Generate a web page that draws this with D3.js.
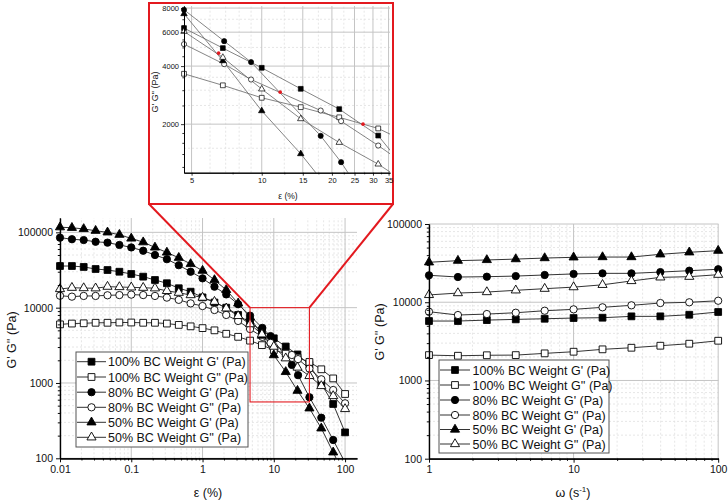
<!DOCTYPE html>
<html><head><meta charset="utf-8">
<script src="https://cdn.jsdelivr.net/npm/d3@7"></script>
<style>
body{margin:0;background:#fff}
text{font-family:Arial,"Liberation Sans",sans-serif}
</style>
</head><body>
<svg id="c" width="728" height="502"></svg>
<script>
// ---------------- DATA ----------------
const seriesNames = ["100% BC Weight G' (Pa)", "100% BC Weight G'' (Pa)", "80% BC Weight G' (Pa)",
                     "80% BC Weight G'' (Pa)", "50% BC Weight G' (Pa)", "50% BC Weight G'' (Pa)"];
// strain sweep (ε, %)
const strainX   = [0.01,0.0147,0.0215,0.0316,0.0464,0.0681,0.1,0.147,0.215,0.316,0.464,0.681,1,1.47,2.15,3.16,4.64,6.81,10,14.7,21.5,31.6,46.4,68.1,100];
const strainX80 = [0.01,0.0147,0.0215,0.0316,0.0464,0.0681,0.1,0.147,0.215,0.316,0.464,0.681,1,1.47,2.15,3.16,4.64,6.9,9.0,17.9,21.9,31.6,46.4,68.1,100];
const strainG1_100 = [35700,35700,34700,32600,31600,30000,28000,25800,23300,21100,18100,16300,13700,11700,10000,8000,6300,4960,3920,3050,2393,1745,980,526,221];
const strainG2_100 = [6000,6150,6200,6300,6300,6350,6350,6300,6300,6150,5900,5650,5350,5000,4500,4100,3650,3180,2740,2450,2170,1900,1520,1150,714];
const strainG1_80  = [85000,81000,79000,75000,73000,68000,63000,57000,50000,44000,36600,30000,24500,19000,15000,11100,7840,5390,4195,1739,1270,646,346,175,88];
const strainG2_80  = [14400,14000,14300,14300,14600,14700,14900,14700,14300,13600,12700,11400,10500,9300,8000,6660,5200,4095,3408,2353,2073,1549,1120,807,537];
const strainG1_50  = [117000,115000,111000,105000,100000,93000,83000,74000,63000,54000,46000,38000,31000,23300,17200,11400,7470,4260,2344,1403,790,461,250,120,58];
const strainG2_50  = [17700,18400,18200,18100,19000,18800,18600,18400,18100,16700,15800,14700,13600,12000,9800,7770,6050,4435,3040,2131,1606,1240,913,672,452];
// crossover points highlighted in the inset
const crossStrain  = [6.53, 12.0, 27.2];
const crossModulus = [4670, 2930, 2000];
// zoomed region of the strain sweep
const zoomStrain  = [4.64, 31.6];
const zoomModulus = [560, 10000];
// frequency sweep (ω, 1/s)
const freqX = [1,1.585,2.512,3.981,6.31,10,15.85,25.12,39.81,63.1,100];
const freqG1_100 = [5750,5750,5910,6040,6150,6280,6340,6600,6600,6920,7500];
const freqG2_100 = [2110,2070,2100,2110,2220,2330,2500,2620,2780,2950,3220];
const freqG1_80  = [22100,21000,21200,21600,22300,23000,23400,23400,24300,25300,26400];
const freqG2_80  = [7570,6860,7060,7340,7790,8110,8610,9130,9770,9980,10450];
const freqG1_50  = [32400,34000,34700,35600,36700,37500,37800,37800,41000,43500,45600];
const freqG2_50  = [12400,13100,13500,14200,14900,15600,16700,18700,20800,21200,22500];
// tick labels
const strainTicks = [0.01,0.1,1,10,100];
const freqTicks = [1,10,100];
const modulusTicks = [100,1000,10000,100000];
const insetXTicks = [5,10,15,20,25,30,35];
const insetYTicks = [2000,4000,6000,8000];

// ---------------- STYLE ----------------
const styles = [
  {type:d3.symbolSquare,   size:46, filled:true},
  {type:d3.symbolSquare,   size:46, filled:false},
  {type:d3.symbolCircle,   size:42, filled:true},
  {type:d3.symbolCircle,   size:42, filled:false},
  {type:d3.symbolTriangle, size:36, filled:true},
  {type:d3.symbolTriangle, size:36, filled:false}
];
const RED = "#e3191f";
const svg = d3.select("#c");

function logMinors(lo, hi, majors){
  const out=[];
  for(let k=-4;k<=6;k++) for(let d=1;d<=9;d++){
    const v=+(d*Math.pow(10,k)).toPrecision(6);
    if(v>=lo && v<=hi && !majors.includes(v)) out.push(v);
  }
  return out;
}

const strainSeries = [
  {xs:strainX,  ys:strainG1_100},{xs:strainX,  ys:strainG2_100},
  {xs:strainX80,ys:strainG1_80}, {xs:strainX80,ys:strainG2_80},
  {xs:strainX,  ys:strainG1_50}, {xs:strainX,  ys:strainG2_50}];
const freqSeries = [freqG1_100,freqG2_100,freqG1_80,freqG2_80,freqG1_50,freqG2_50]
  .map(ys=>({xs:freqX, ys}));

let clipId = 0;
function panel(c){
  const g = svg.append("g");
  const x = d3.scaleLog().domain(c.xDomain).range(c.xRange);
  const y = d3.scaleLog().domain(c.yDomain).range(c.yRange);
  const [x0,x1]=c.xRange, [y0,y1]=c.yRange;
  g.append("g").selectAll("line").data(c.xGridMinor).join("line")
    .attr("x1",d=>x(d)).attr("x2",d=>x(d)).attr("y1",y0).attr("y2",y1)
    .attr("stroke","#e0e0e0").attr("stroke-width",0.8).attr("stroke-dasharray","2,2");
  g.append("g").selectAll("line").data(c.yGridMinor).join("line")
    .attr("y1",d=>y(d)).attr("y2",d=>y(d)).attr("x1",x0).attr("x2",x1)
    .attr("stroke","#e0e0e0").attr("stroke-width",0.8).attr("stroke-dasharray","2,2");
  g.append("g").selectAll("line").data(c.xMajor).join("line")
    .attr("x1",d=>x(d)).attr("x2",d=>x(d)).attr("y1",y0).attr("y2",y1)
    .attr("stroke","#c4c4c4").attr("stroke-width",1);
  g.append("g").selectAll("line").data(c.yMajor).join("line")
    .attr("y1",d=>y(d)).attr("y2",d=>y(d)).attr("x1",x0).attr("x2",x1)
    .attr("stroke","#c4c4c4").attr("stroke-width",1);
  const id="clip"+(clipId++);
  g.append("clipPath").attr("id",id).append("rect")
    .attr("x",x0).attr("y",y1).attr("width",x1-x0).attr("height",y0-y1);
  const line = d3.line().x(d=>x(d[0])).y(d=>y(d[1]));
  const dg = g.append("g");
  c.series.forEach((s)=>{
    const pts = s.xs.map((v,j)=>[v,s.ys[j]]);
    dg.append("path").attr("d",line(pts)).attr("fill","none")
      .attr("stroke",c.lineColor).attr("stroke-width",c.lineWidth)
      .attr("clip-path",`url(#${id})`);
  });
  c.series.forEach((s,i)=>{
    const st=styles[i];
    const pts = s.xs.map((v,j)=>[v,s.ys[j]])
      .filter(p=>p[0]>=c.xDomain[0]*0.999 && p[0]<=c.xDomain[1] && p[1]>=c.yDomain[0] && p[1]<=c.yDomain[1]);
    dg.append("g").selectAll("path").data(pts).join("path")
      .attr("transform",d=>`translate(${x(d[0])},${y(d[1])})`)
      .attr("d",d3.symbol().type(st.type).size(st.size*c.markerScale))
      .attr("fill",st.filled?"#000":"#fff").attr("stroke","#000").attr("stroke-width",c.markerStroke);
  });
  const ax = g.append("g").attr("transform",`translate(0,${y0})`);
  ax.call(d3.axisBottom(x).tickValues(c.xMinorTicks).tickFormat("").tickSize(c.tick*0.55).tickSizeOuter(0));
  const axM = g.append("g").attr("transform",`translate(0,${y0})`);
  axM.call(d3.axisBottom(x).tickValues(c.xMajor).tickFormat(c.xFmt).tickSize(c.tick).tickSizeOuter(0).tickPadding(c.pad));
  const ay = g.append("g").attr("transform",`translate(${x0},0)`);
  ay.call(d3.axisLeft(y).tickValues(c.yMinorTicks).tickFormat("").tickSize(c.tick*0.55).tickSizeOuter(0));
  const ayM = g.append("g").attr("transform",`translate(${x0},0)`);
  ayM.call(d3.axisLeft(y).tickValues(c.yMajor).tickFormat(c.yFmt).tickSize(c.tick).tickSizeOuter(0).tickPadding(c.pad));
  [ax,axM,ay,ayM].forEach(a=>{
    a.selectAll(".domain").attr("stroke","#000").attr("stroke-width",c.axisWidth);
    a.selectAll(".tick line").attr("stroke","#000").attr("stroke-width",c.axisWidth*0.8);
    a.selectAll("text").attr("font-size",c.fontSize).attr("fill","#111")
      .attr("font-family","Arial, 'Liberation Sans', sans-serif");
  });
  return {g,x,y};
}

function legend(x0,y0,w,h,rowY,lineX0,lineX1,textX){
  const g=svg.append("g");
  g.append("rect").attr("x",x0).attr("y",y0).attr("width",w).attr("height",h)
    .attr("fill","#fff").attr("stroke","#555").attr("stroke-width",1);
  seriesNames.forEach((n,i)=>{
    const yy=rowY[i], st=styles[i];
    g.append("line").attr("x1",lineX0).attr("x2",lineX1).attr("y1",yy).attr("y2",yy)
      .attr("stroke","#333").attr("stroke-width",1);
    g.append("path").attr("transform",`translate(${(lineX0+lineX1)/2},${yy})`)
      .attr("d",d3.symbol().type(st.type).size(st.size))
      .attr("fill",st.filled?"#000":"#fff").attr("stroke","#000").attr("stroke-width",0.9);
    g.append("text").attr("x",textX).attr("y",yy).attr("dy","0.36em")
      .attr("font-size",12.5).attr("fill","#111").text(n);
  });
}

const decFmt = d=>String(d);

// ---------- LEFT: strain sweep ----------
const L = panel({
  xDomain:[0.01,147], xRange:[60,357], yDomain:[100,155000], yRange:[458.3,218],
  xMajor:strainTicks, yMajor:modulusTicks,
  xMinorTicks:logMinors(0.01,147,strainTicks), yMinorTicks:logMinors(100,155000,modulusTicks),
  xGridMinor:logMinors(0.01,147,strainTicks), yGridMinor:logMinors(100,155000,modulusTicks),
  xFmt:decFmt, yFmt:decFmt, fontSize:10.5, tick:4, pad:3, axisWidth:1.2,
  series:strainSeries, lineColor:"#333", lineWidth:1, markerScale:1, markerStroke:0.9
});
svg.append("text").attr("x",208).attr("y",497).attr("text-anchor","middle")
  .attr("font-size",12.5).attr("fill","#111").text("ε (%)");
svg.append("text").attr("transform","translate(16,340) rotate(-90)").attr("text-anchor","middle")
  .attr("font-size",12.5).attr("fill","#111").text("G' G'' (Pa)");
legend(76,352,172,95,[361.7,377,392.2,407.3,422.3,437.3],77,106,108);

// ---------- RIGHT: frequency sweep ----------
const R = panel({
  xDomain:[1,100.5], xRange:[429,718.5], yDomain:[100,100000], yRange:[458.7,224],
  xMajor:freqTicks, yMajor:modulusTicks,
  xMinorTicks:logMinors(1,100,freqTicks), yMinorTicks:logMinors(100,100000,modulusTicks),
  xGridMinor:logMinors(1,100,freqTicks), yGridMinor:logMinors(100,100000,modulusTicks),
  xFmt:decFmt, yFmt:decFmt, fontSize:10.5, tick:4, pad:3, axisWidth:1.2,
  series:freqSeries, lineColor:"#333", lineWidth:1, markerScale:1, markerStroke:0.9
});
const wt = svg.append("text").attr("x",573).attr("y",497).attr("text-anchor","middle")
  .attr("font-size",12.5).attr("fill","#111");
wt.append("tspan").text("ω (s");
wt.append("tspan").attr("dy",-5).attr("font-size",8).text("-1");
wt.append("tspan").attr("dy",5).text(")");
svg.append("text").attr("transform","translate(384,332) rotate(-90)").attr("text-anchor","middle")
  .attr("font-size",12.5).attr("fill","#111").text("G' G'' (Pa)");
legend(439,360,170,93,[370,385,400,415,429.5,444],440,470,472.5);

// ---------- zoom rectangle + connectors ----------
const zx0=L.x(zoomStrain[0]), zx1=L.x(zoomStrain[1]), zy0=L.y(zoomModulus[1]), zy1=L.y(zoomModulus[0]);
svg.append("rect").attr("x",zx0).attr("y",zy0).attr("width",zx1-zx0).attr("height",zy1-zy0)
  .attr("fill","none").attr("stroke",RED).attr("stroke-width",1.1);
const INS = {x:149,y:3,w:244,h:201};
svg.append("line").attr("x1",INS.x).attr("y1",INS.y+INS.h).attr("x2",zx0).attr("y2",zy0)
  .attr("stroke",RED).attr("stroke-width",2);
svg.append("line").attr("x1",INS.x+INS.w).attr("y1",INS.y+INS.h).attr("x2",zx1).attr("y2",zy0)
  .attr("stroke",RED).attr("stroke-width",2);

// ---------- inset ----------
svg.append("rect").attr("x",INS.x).attr("y",INS.y).attr("width",INS.w).attr("height",INS.h)
  .attr("fill","#fff").attr("stroke",RED).attr("stroke-width",2);
const insYMinor = [1200,1400,1600,1800,2500,3000,3500,4500,5000,5500,6500,7000,7500];
const I = panel({
  xDomain:[4.64,35.5], xRange:[184,390], yDomain:[1120,8200], yRange:[172.7,6],
  xMajor:insetXTicks, yMajor:insetYTicks,
  xMinorTicks:[7.5,12.5,17.5,22.5,27.5,32.5], yMinorTicks:insYMinor,
  xGridMinor:[6,7,8,9,12.5,17.5,22.5,27.5,32.5], yGridMinor:[1500,2500,3000,3500,5000,7000],
  xFmt:decFmt, yFmt:decFmt, fontSize:7.5, tick:3, pad:2, axisWidth:1,
  series:strainSeries, lineColor:"#666", lineWidth:0.8, markerScale:0.5, markerStroke:0.7
});
I.g.append("g").selectAll("circle").data(crossStrain).join("circle")
  .attr("cx",d=>I.x(d)).attr("cy",(d,i)=>I.y(crossModulus[i])).attr("r",1.8).attr("fill",RED);
svg.append("text").attr("x",288).attr("y",199).attr("text-anchor","middle")
  .attr("font-size",8.5).attr("fill","#111").text("ε (%)");
svg.append("text").attr("transform","translate(158,92) rotate(-90)").attr("text-anchor","middle")
  .attr("font-size",9).attr("fill","#111").text("G' G'' (Pa)");
</script>
</body></html>
